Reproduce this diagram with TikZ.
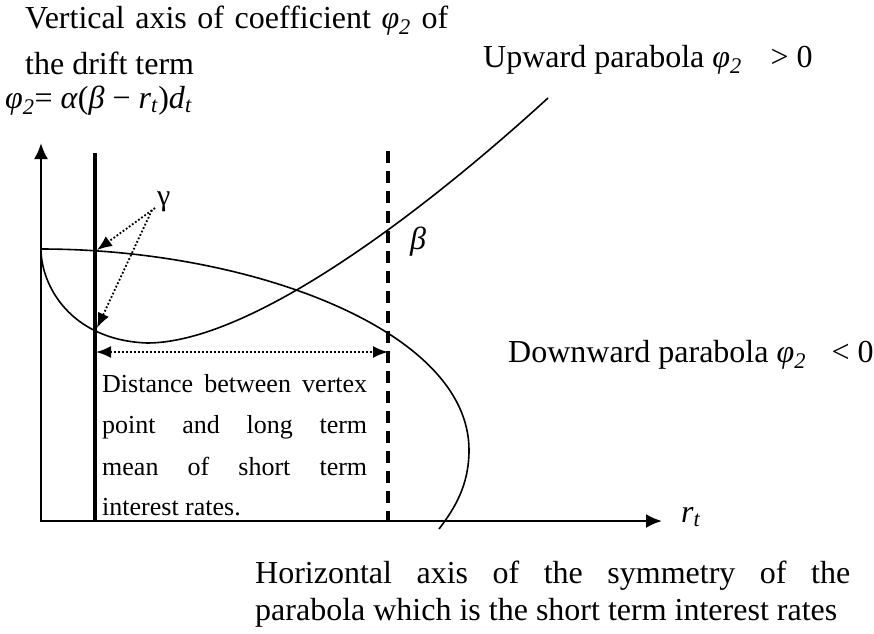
\documentclass[tikz,border=0pt]{standalone}
\usepackage{fontspec}
\setmainfont{Liberation Serif}
\usetikzlibrary{positioning}
\usetikzlibrary{calc}
\usetikzlibrary{arrows.meta}

\newcommand{\phitwo}{\textit{φ\textsubscript{2}}}

\tikzset{
  axis/.style={line width=2.4pt, -{Latex[length=16pt,width=14pt]}},
  pointer/.style={line width=1.8pt, dotted, -{Latex[length=15pt,width=12pt]}},
  span/.style={line width=2pt, dotted, {Latex[length=15pt,width=12pt]}-{Latex[length=15pt,width=12pt]}},
  curve/.style={line width=1.6pt},
  txt/.style={inner sep=0pt, anchor=base west, font=\fontsize{32}{38}\selectfont},
  boxtxt/.style={inner sep=0pt, anchor=base west, font=\fontsize{26}{30}\selectfont},
}

\begin{document}
\begin{tikzpicture}[x=1pt, y=-1pt]
  \useasboundingbox (0,0) rectangle (874,633);

  % Assi
  \coordinate (o) at (41,521);
  \coordinate (ytop) at (41,143);
  \coordinate (xend) at (662,521);
  \draw[axis] (o) -- (ytop);
  \draw[axis] ([xshift=-1.2pt]o) -- (xend);
  \node[txt] (rt) at (681,522) {\textit{r\textsubscript{t}}};

  % Rette verticali
  \coordinate (vtop) at (95,153);
  \coordinate (vbot) at (95,521);
  \coordinate (btop) at (388,151);
  \coordinate (bbot) at (388,521);
  \draw[line width=3.4pt] (vtop) -- (vbot);
  \draw[line width=3.4pt, dash pattern=on 12pt off 8pt] (btop) -- (bbot);

  % Parabole
  \coordinate (start) at (41,249);
  \coordinate (low) at (147,343);
  \coordinate (upend) at (548,98);
  \coordinate (tip) at (469,450);
  \coordinate (downend) at (439,529);
  \draw[curve] (start) .. controls (41,285) and (70,340) .. (low)
                       .. controls (250,343) and (420,215) .. (upend);
  \draw[curve] (start) .. controls (250,249) and (469,330) .. (tip)
                       .. controls (469,485) and (455,508) .. (downend);

  % Etichette
  \node[txt] (vlab1) at (25,28) {\makebox[423pt][s]{Vertical axis of coefficient \phitwo{} of}};
  \node[txt] (vlab2) at (25,74) {the drift term};
  \node[txt] (drift) at (5,108)
    {\textit{φ}\textsubscript{\textit{2}}= \textit{α}(\textit{β} − \textit{r}\textsubscript{\textit{t}})\textit{d}\textsubscript{\textit{t}}};
  \node[txt] (uplab) at (483,67) {Upward parabola \phitwo\hspace{0.9em}> 0};
  \node[txt] (downlab) at (508,362) {Downward parabola \phitwo\hspace{0.8em}< 0};
  \node[txt] (beta) at (410,249) {\textit{β}};
  \node[inner sep=0pt, anchor=base west, font=\fontsize{30}{34}\selectfont] (gamma) at (157,205) {γ};

  % Frecce gamma
  \coordinate (ga) at (155,208);
  \coordinate (gb) at (152,210);
  \coordinate (g1) at (97,250);
  \coordinate (g2) at (97,328);
  \draw[pointer] (ga) -- (g1);
  \draw[pointer] (gb) -- (g2);

  % Distanza
  \coordinate (dl) at (96,352);
  \coordinate (dr) at (388,352);
  \draw[span] (dl) -- (dr);
  \node[boxtxt] (dist1) at (102,392) {\makebox[265pt][s]{Distance between vertex}};
  \node[boxtxt] (dist2) at (102,433) {\makebox[265pt][s]{point and long term}};
  \node[boxtxt] (dist3) at (102,475) {\makebox[265pt][s]{mean of short term}};
  \node[boxtxt] (dist4) at (102,515) {interest rates.};

  % Asse orizzontale
  \node[txt] (hlab1) at (255,583) {\makebox[595pt][s]{Horizontal axis of the symmetry of the}};
  \node[txt] (hlab2) at (255,620) {parabola which is the short term interest rates};
\end{tikzpicture}
\end{document}
